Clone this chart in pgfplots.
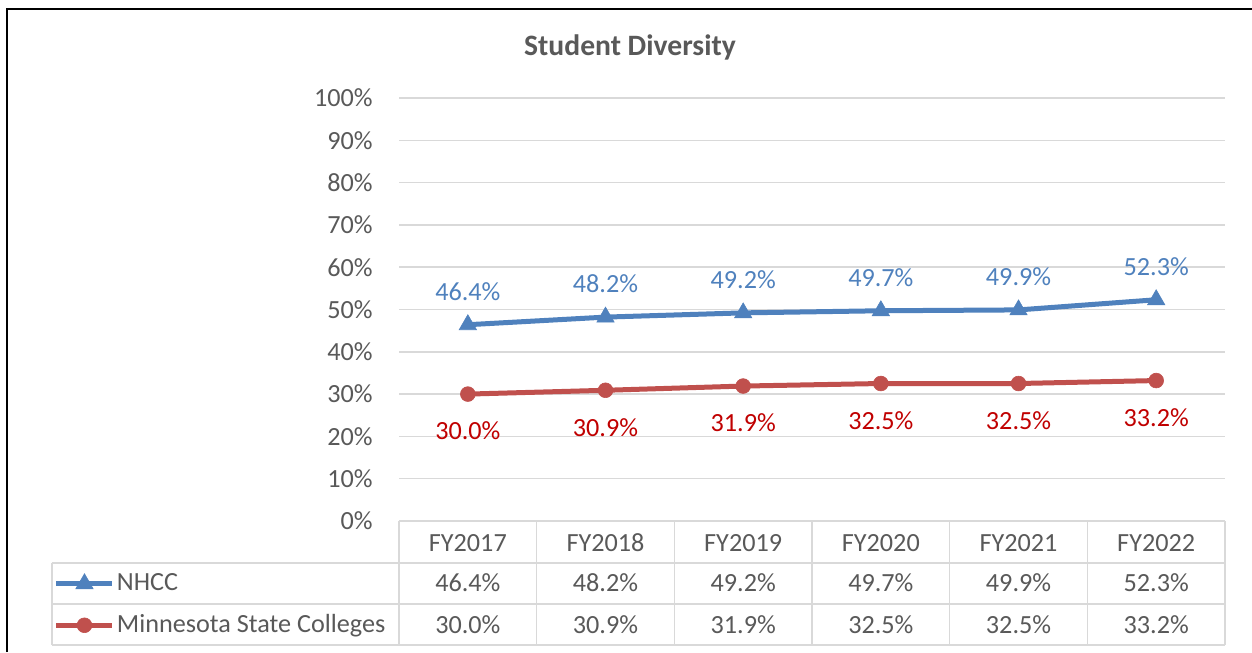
\documentclass[border=0pt]{standalone}
\usepackage{pgfplots}
\pgfplotsset{compat=1.18}
\usepackage{pgfplotstable}
\usepackage{fontspec}
\setmainfont{Carlito}
\definecolor{nhcc}{HTML}{4F81BD}
\definecolor{nhcclab}{HTML}{4F81BD}
\definecolor{msc}{HTML}{C0504D}
\definecolor{msclab}{HTML}{C00000}
\definecolor{txt}{HTML}{595959}
\definecolor{grd}{HTML}{D9D9D9}

\pgfplotstableread{
x nhcc msc
0 46.4 30.0
1 48.2 30.9
2 49.2 31.9
3 49.7 32.5
4 49.9 32.5
5 52.3 33.2
}\datatab

\newcommand{\bodyfont}{\fontsize{13.1bp}{15.6bp}\selectfont}

\begin{document}
\begin{tikzpicture}
\begin{scope}[x=0.5bp,y=0.5bp,shift={(-199.5bp,-65.5bp)}]
\useasboundingbox (0,0) rectangle (1252,652);
\draw[line width=1bp, black] (7,0) -- (7,643) -- (1252,643);
\node[font=\bfseries\fontsize{14.8bp}{17bp}\selectfont, text=txt] at (630,605) {Student Diversity};
\begin{scope}[draw=grd, line width=0.75bp]
\foreach \i in {0,...,6} { \draw (399+137.667*\i,131) -- (399+137.667*\i,7); }
\draw (52,89) -- (1225,89);
\draw (52,48) -- (1225,48);
\draw (52,7) -- (1225,7);
\draw (52,89) -- (52,7);
\end{scope}
\end{scope}
\begin{axis}[
  at={(0,0)}, anchor=south west,
  width=413bp, height=211.5bp, scale only axis,
  xmin=-0.5, xmax=5.5, ymin=0, ymax=100,
  xtick={0,...,5}, xticklabels={FY2017,FY2018,FY2019,FY2020,FY2021,FY2022},
  ytick={0,10,...,100}, yticklabel={\pgfmathprintnumber{\tick}\%},
  ymajorgrids, grid style={grd, line width=0.75bp},
  axis line style={draw=none}, major tick length=0pt,
  tick label style={font=\bodyfont, text=txt},
  yticklabel style={anchor=east, inner sep=0pt, xshift=-13bp},
  xticklabel style={anchor=center, inner sep=0pt, yshift=-11bp},
  clip=false,
  /pgf/number format/assume math mode=true,
  legend cell align=left,
  legend style={at={(axis description cs:-0.4177,-0.0993)}, anchor=north west,
    draw=none, fill=none, inner sep=0pt, outer sep=0pt, row sep=0pt, column sep=1bp,
    nodes={inner sep=0pt, minimum height=20.75bp, font=\bodyfont, text=txt}},
  legend image code/.code={\draw[mark repeat=2, mark phase=2, #1] plot coordinates {(0bp,0bp) (14bp,0bp) (28bp,0bp)};},
]
\addplot[nhcc, line width=2.5bp, mark=triangle*, mark size=5bp, mark options={solid, line width=0.3bp},
  nodes near coords={\pgfmathprintnumber[fixed,fixed zerofill,precision=1]{\pgfplotspointmeta}\%},
  every node near coord/.append style={anchor=center, yshift=16.5bp, font=\bodyfont, text=nhcclab}]
  table[x=x, y=nhcc] {\datatab};
\addlegendentry{NHCC}
\addplot[msc, line width=2.5bp, mark=*, mark size=3.7bp, mark options={solid, line width=0.3bp},
  nodes near coords={\pgfmathprintnumber[fixed,fixed zerofill,precision=1]{\pgfplotspointmeta}\%},
  every node near coord/.append style={anchor=center, yshift=-18.5bp, font=\bodyfont, text=msclab}]
  table[x=x, y=msc] {\datatab};
\addlegendentry{Minnesota State Colleges}
\addplot[draw=none, mark=none, forget plot, point meta=explicit,
  nodes near coords={\pgfmathprintnumber[fixed,fixed zerofill,precision=1]{\pgfplotspointmeta}\%},
  every node near coord/.append style={anchor=center, font=\bodyfont, text=txt}]
  table[x=x, y expr=-14.66, meta=nhcc] {\datatab};
\addplot[draw=none, mark=none, forget plot, point meta=explicit,
  nodes near coords={\pgfmathprintnumber[fixed,fixed zerofill,precision=1]{\pgfplotspointmeta}\%},
  every node near coord/.append style={anchor=center, font=\bodyfont, text=txt}]
  table[x=x, y expr=-24.59, meta=msc] {\datatab};
\end{axis}
\end{tikzpicture}
\end{document}
